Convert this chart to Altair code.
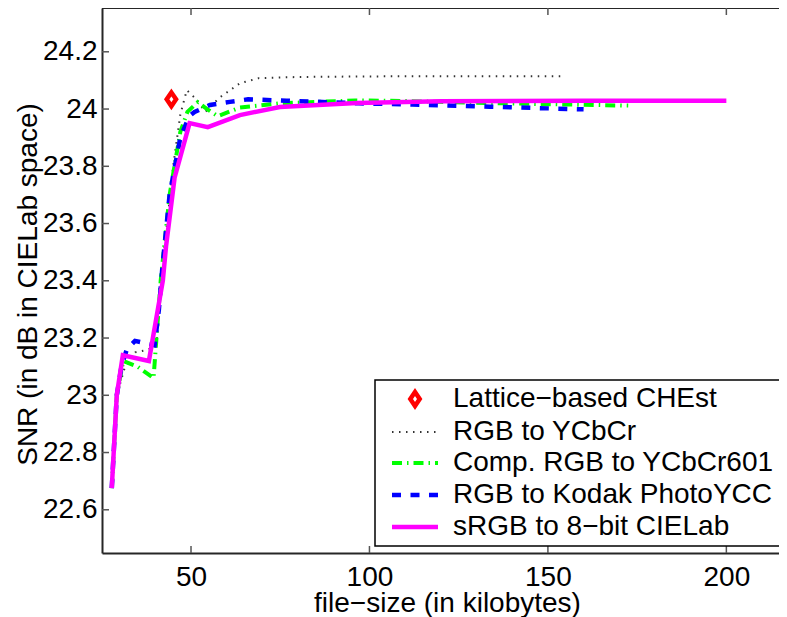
import altair as alt
import pandas as pd

FONT = "Liberation Sans"
FS = 28

# ---- data (file-size in kilobytes, SNR in dB) ----
lattice_x = [44.5]
lattice_y = [24.034]

ycbcr_x = [27.8, 29.2, 31.5, 34.4, 38.2, 40.4, 42.0, 45.0, 47.0, 48.8, 51.0, 54.0, 58.0, 63.7, 69.0, 80.0, 100.0, 130.0, 155.0]
ycbcr_y = [22.676, 23.0, 23.10, 23.15, 23.16, 23.19, 23.45, 23.80, 23.98, 24.066, 24.04, 23.99, 24.04, 24.09, 24.108, 24.112, 24.114, 24.115, 24.115]

comp601_x = [27.8, 29.2, 31.0, 35.0, 39.5, 41.5, 44.0, 47.0, 49.0, 51.9, 54.5, 57.5, 63.7, 75.0, 96.0, 110.0, 130.0, 150.0, 172.5]
comp601_y = [22.676, 23.0, 23.12, 23.10, 23.06, 23.40, 23.70, 23.92, 23.99, 24.024, 24.00, 23.975, 24.005, 24.02, 24.03, 24.028, 24.022, 24.017, 24.012]

kodak_x = [27.8, 29.2, 30.5, 32.0, 34.3, 39.8, 41.0, 42.0, 44.0, 47.0, 49.5, 51.0, 55.3, 60.9, 66.0, 76.8, 97.0, 112.0, 133.7, 160.0]
kodak_y = [22.676, 23.0, 23.10, 23.16, 23.19, 23.175, 23.30, 23.45, 23.70, 23.90, 23.975, 23.99, 24.014, 24.025, 24.034, 24.029, 24.02, 24.016, 24.008, 23.999]

cielab_x = [27.8, 29.2, 30.9, 38.2, 42.1, 43.0, 45.4, 49.6, 54.7, 63.7, 74.9, 96.4, 120.0, 160.0, 200.0]
cielab_y = [22.676, 23.0, 23.14, 23.12, 23.40, 23.52, 23.76, 23.951, 23.937, 23.979, 24.007, 24.021, 24.027, 24.029, 24.029]

x_ticks = [50, 100, 150, 200]
y_ticks = [22.6, 22.8, 23.0, 23.2, 23.4, 23.6, 23.8, 24.0, 24.2]

legend_names = ["Lattice−based CHEst", "RGB to YCbCr", "Comp. RGB to YCbCr601",
                "RGB to Kodak PhotoYCC", "sRGB to 8−bit CIELab"]

# ---- layout ----
W, H = 677, 545
xs = alt.Scale(domain=[25.06, 214.75], nice=False, zero=False)
ys = alt.Scale(domain=[22.449, 24.353], nice=False, zero=False)

xaxis = alt.Axis(values=x_ticks, tickSize=0, grid=False, labelFont=FONT, labelFontSize=FS,
                 labelColor="black", labelPadding=10, domainColor="#262626", domainWidth=2,
                 title="file−size (in kilobytes)", titleFont=FONT, titleFontSize=FS,
                 titleFontWeight="normal", titleColor="black", titleBaseline="alphabetic",
                 titleX=345, titleY=58)
yaxis = alt.Axis(values=y_ticks, format="~g", tickSize=0, grid=False, labelFont=FONT,
                 labelFontSize=FS, labelColor="black", labelPadding=5, domainColor="#262626",
                 domainWidth=2, title="SNR (in dB in CIELab space)", titleFont=FONT,
                 titleFontSize=FS, titleFontWeight="normal", titleColor="black",
                 titleBaseline="alphabetic", titleX=-66, titleY=276)


def X():
    return alt.X("x:Q", scale=xs, axis=xaxis)


def Y():
    return alt.Y("y:Q", scale=ys, axis=yaxis)


def line_layer(xv, yv, color, width, dash=None):
    df = pd.DataFrame({"x": xv, "y": yv, "i": range(len(xv))})
    kw = dict(color=color, strokeWidth=width, clip=True)
    if dash:
        kw["strokeDash"] = dash
    return alt.Chart(df).mark_line(**kw).encode(x=X(), y=Y(), order="i:Q")


one = pd.DataFrame({"a": [0]})
DIAMOND = "M0,-1L0.68,0L0,1L-0.68,0Z"

layers = []
# series
layers.append(alt.Chart(pd.DataFrame({"x": lattice_x, "y": lattice_y})).mark_point(
    shape=DIAMOND, size=190, filled=False, color="#ff0000", strokeWidth=4.5, opacity=1).encode(x=X(), y=Y()))
layers.append(line_layer(ycbcr_x, ycbcr_y, "#333333", 2, [1.5, 5.5]))
layers.append(line_layer(comp601_x, comp601_y, "#00ff00", 4, [10, 5, 1.5, 5]))
layers.append(line_layer(kodak_x, kodak_y, "#0000ff", 4.5, [9, 9.5]))
layers.append(line_layer(cielab_x, cielab_y, "#ff00ff", 4.5))

# frame: top border + inward ticks
layers.append(alt.Chart(one).mark_rule(color="#262626", strokeWidth=2).encode(
    x=alt.value(0), x2=alt.value(W + 20), y=alt.value(0)))
xt = pd.DataFrame({"x": x_ticks})
layers.append(alt.Chart(xt).mark_rule(color="#555555", strokeWidth=1.5).encode(
    x=X(), y=alt.value(0), y2=alt.value(7)))
layers.append(alt.Chart(xt).mark_rule(color="#555555", strokeWidth=1.5).encode(
    x=X(), y=alt.value(H), y2=alt.value(H - 7)))
yt = pd.DataFrame({"y": y_ticks})
layers.append(alt.Chart(yt).mark_rule(color="#555555", strokeWidth=1.5).encode(
    y=Y(), x=alt.value(0), x2=alt.value(7)))

# legend
LX, LY0, LY1 = 273, 372, 538
rows = [391, 424, 455, 487, 519]
layers.append(alt.Chart(one).mark_rect(fill="white", stroke="black", strokeWidth=1.5).encode(
    x=alt.value(LX), x2=alt.value(W + 30), y=alt.value(LY0), y2=alt.value(LY1)))
sx0, sx1 = 290, 336
layers.append(alt.Chart(one).mark_point(shape=DIAMOND, size=190, filled=False, color="#ff0000",
                                        strokeWidth=4.5, opacity=1).encode(
    x=alt.value((sx0 + sx1) / 2), y=alt.value(rows[0])))
styles = [("#333333", 2, [1.5, 5.5]), ("#00ff00", 4, [10, 5, 1.5, 5]),
          ("#0000ff", 4.5, [9, 9.5]), ("#ff00ff", 4.5, None)]
for (c, w, d), ry in zip(styles, rows[1:]):
    kw = dict(color=c, strokeWidth=w)
    if d:
        kw["strokeDash"] = d
    layers.append(alt.Chart(one).mark_rule(**kw).encode(
        x=alt.value(sx0), x2=alt.value(sx1), y=alt.value(ry)))
for name, ry in zip(legend_names, rows):
    layers.append(alt.Chart(pd.DataFrame({"name": [name]})).mark_text(
        align="left", baseline="middle", font=FONT, fontSize=FS, color="black").encode(
        x=alt.value(351), y=alt.value(ry), text="name:N"))

chart = alt.layer(*layers).properties(
    width=W, height=H,
    autosize=alt.AutoSizeParams(type="none"),
    padding={"left": 94, "top": 0, "right": 0, "bottom": 64},
).configure_view(stroke=None)

chart.save("out.html", embed_options={"renderer": "svg", "actions": False})
